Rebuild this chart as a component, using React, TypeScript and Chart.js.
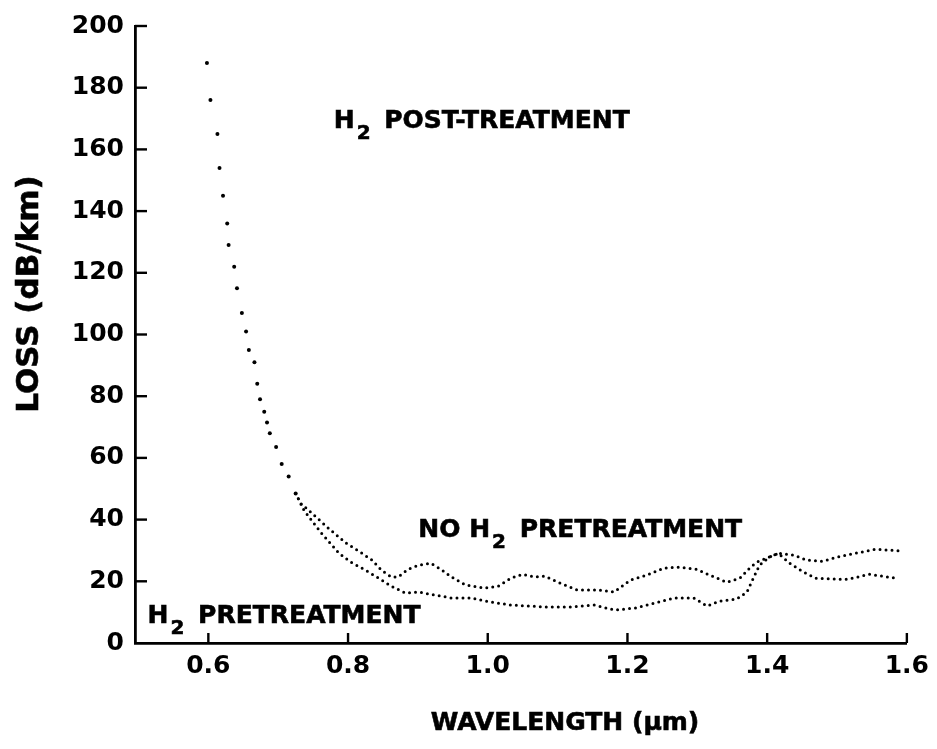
import React, { useEffect, useRef } from "react";
import { Chart, registerables } from "chart.js";

Chart.register(...registerables);

// Short-wavelength absorption edge shared by both fibres (wavelength µm, loss dB/km)
const edgeWavelength = [
  0.598, 0.603, 0.613, 0.616, 0.621, 0.627, 0.629, 0.637, 0.641, 0.648, 0.654, 0.658,
  0.666, 0.670, 0.674, 0.680, 0.684, 0.688, 0.697, 0.705, 0.715, 0.725,
];
const edgeLoss = [
  188, 176, 165, 154, 145, 136, 129, 122, 115, 107, 101, 95,
  91, 84, 79, 75, 71.5, 68, 63.5, 58, 54, 48.5,
];

// Fibre drawn without hydrogen pretreatment
const noPreWavelength = [
  0.725, 0.732, 0.748, 0.772, 0.797, 0.818, 0.834, 0.848, 0.862, 0.872, 0.886, 0.901,
  0.918, 0.933, 0.948, 0.968, 0.996, 1.015, 1.033, 1.05, 1.067, 1.081, 1.104, 1.128,
  1.157, 1.181, 1.204, 1.228, 1.252, 1.275, 1.299, 1.318, 1.342, 1.361, 1.375, 1.385,
  1.399, 1.416, 1.438, 1.456, 1.48, 1.499, 1.527, 1.556, 1.594,
];
const noPreLoss = [
  48.5, 45.3, 42.1, 37.2, 32.4, 29.4, 26.9, 23.6, 21.4, 21.4, 23.9, 25.2,
  25.9, 23.9, 21.4, 18.8, 17.8, 18.4, 21.0, 22.3, 21.4, 21.7, 19.4, 17.2,
  17.2, 16.5, 20.4, 22.0, 24.3, 24.6, 23.9, 22.0, 19.7, 21.0, 24.3, 26.2,
  27.5, 29.1, 28.5, 26.9, 26.5, 27.8, 29.1, 30.4, 29.8,
];

// Fibre with hydrogen pretreatment
const preWavelength = [
  0.725, 0.737, 0.762, 0.787, 0.804, 0.825, 0.844, 0.862, 0.882, 0.901, 0.925, 0.948,
  0.976, 0.996, 1.033, 1.081, 1.119, 1.153, 1.181, 1.21, 1.238, 1.267, 1.295, 1.314,
  1.332, 1.356, 1.371, 1.381, 1.389, 1.403, 1.416, 1.432, 1.452, 1.47, 1.499, 1.517,
  1.546, 1.584,
];
const preLoss = [
  48.5, 43.0, 35.6, 29.1, 26.2, 23.6, 21.0, 18.4, 16.2, 16.5, 15.5, 14.6,
  14.6, 13.6, 12.3, 11.7, 11.7, 12.3, 10.7, 11.3, 12.9, 14.6, 14.6, 12.0,
  13.6, 14.2, 16.5, 21.4, 25.2, 27.8, 29.1, 25.9, 23.0, 21.0, 20.7, 20.7,
  22.3, 21.0,
];

const xTicks = [0.6, 0.8, 1.0, 1.2, 1.4, 1.6];
const yTicks = [0, 20, 40, 60, 80, 100, 120, 140, 160, 180, 200];

const xTitle = "WAVELENGTH (\u03bcm)";
const yTitle = "LOSS (dB/km)";

type Part = { text: string; sub?: boolean };
// Curve captions, anchored at the left end of their baseline (data coordinates)
const captions: { x: number; y: number; parts: Part[] }[] = [
  { x: 0.7795, y: 167, parts: [{ text: "H" }, { text: "2", sub: true }, { text: " POST-TREATMENT" }] },
  { x: 0.9006, y: 34.3, parts: [{ text: "NO H" }, { text: "2", sub: true }, { text: " PRETREATMENT" }] },
  { x: 0.513, y: 6.5, parts: [{ text: "H" }, { text: "2", sub: true }, { text: " PRETREATMENT" }] },
];

const INK = "#000000";
const FAMILY = "'DejaVu Sans', 'Liberation Sans', sans-serif";

const toPoints = (xs: number[], ys: number[]) => xs.map((x, i) => ({ x, y: ys[i] }));

// Tick marks pointing into the plot area
const inwardTicks = {
  id: "inwardTicks",
  afterDatasetsDraw(chart: any) {
    const { ctx, chartArea, scales } = chart;
    const xs = scales.x;
    const ys = scales.y;
    ctx.save();
    ctx.strokeStyle = INK;
    ctx.lineWidth = 2.4;
    xs.ticks.forEach((t: any) => {
      const px = xs.getPixelForValue(t.value);
      ctx.beginPath();
      ctx.moveTo(px, chartArea.bottom);
      ctx.lineTo(px, chartArea.bottom - 10);
      ctx.stroke();
    });
    ys.ticks.forEach((t: any) => {
      if (t.value === 0) return;
      const py = ys.getPixelForValue(t.value);
      ctx.beginPath();
      ctx.moveTo(chartArea.left, py);
      ctx.lineTo(chartArea.left + 12, py);
      ctx.stroke();
    });
    ctx.restore();
  },
};

// Captions with subscripts, plus the two axis titles
const textLayer = {
  id: "textLayer",
  afterDraw(chart: any) {
    const { ctx, chartArea, scales } = chart;
    ctx.save();
    ctx.fillStyle = INK;
    ctx.strokeStyle = INK;
    ctx.lineWidth = 0.6;
    ctx.textBaseline = "alphabetic";
    ctx.textAlign = "left";
    captions.forEach((c) => {
      let px = scales.x.getPixelForValue(c.x);
      const base = scales.y.getPixelForValue(c.y);
      c.parts.forEach((p) => {
        ctx.font = p.sub ? `bold 20px ${FAMILY}` : `bold 25px ${FAMILY}`;
        if (p.sub) px += 2;
        const py = base + (p.sub ? 11 : 0);
        ctx.fillText(p.text, px, py);
        ctx.strokeText(p.text, px, py);
        px += ctx.measureText(p.text).width + (p.sub ? 5 : 0);
      });
    });

    ctx.font = `bold 25px ${FAMILY}`;
    ctx.textAlign = "center";
    const tx = chartArea.left + 430;
    const ty = chartArea.bottom + 87;
    ctx.fillText(xTitle, tx, ty);
    ctx.strokeText(xTitle, tx, ty);

    ctx.translate(38, chartArea.top + 268);
    ctx.rotate(-Math.PI / 2);
    ctx.font = `bold 31px ${FAMILY}`;
    ctx.fillText(yTitle, 0, 0);
    ctx.strokeText(yTitle, 0, 0);
    ctx.restore();
  },
};

export default function App() {
  const canvasRef = useRef<HTMLCanvasElement | null>(null);

  useEffect(() => {
    if (!canvasRef.current) return;
    const tickFont = { family: FAMILY, size: 25, weight: "bold" as const };
    const dotted = {
      borderColor: INK,
      borderWidth: 3,
      borderDash: [0, 6],
      borderCapStyle: "round" as const,
      pointRadius: 0,
      tension: 0,
      fill: false,
    };
    const chart = new Chart(canvasRef.current, {
      type: "line",
      data: {
        datasets: [
          {
            label: "edge",
            data: toPoints(edgeWavelength, edgeLoss),
            showLine: false,
            pointRadius: 2,
            pointBackgroundColor: INK,
            pointBorderWidth: 0,
          },
          { label: "NO H2 PRETREATMENT", data: toPoints(noPreWavelength, noPreLoss), ...dotted },
          { label: "H2 PRETREATMENT", data: toPoints(preWavelength, preLoss), ...dotted },
        ],
      },
      options: {
        animation: false,
        responsive: false,
        devicePixelRatio: 1,
        layout: { padding: { top: 25, right: 26, left: 0, bottom: 0 } },
        plugins: { legend: { display: false }, tooltip: { enabled: false } },
        scales: {
          x: {
            type: "linear",
            min: 0.495,
            max: 1.6,
            afterBuildTicks: (s: any) => {
              s.ticks = xTicks.map((v) => ({ value: v }));
            },
            afterFit: (s: any) => {
              s.height = 106;
            },
            ticks: {
              color: INK,
              font: tickFont,
              padding: 8,
              maxRotation: 0,
              autoSkip: false,
              callback: (v: any) => Number(v).toFixed(1),
            },
            grid: { display: false, drawTicks: false },
            border: { display: true, color: INK, width: 2.8 },
          },
          y: {
            type: "linear",
            min: 0,
            max: 200,
            afterBuildTicks: (s: any) => {
              s.ticks = yTicks.map((v) => ({ value: v }));
            },
            afterFit: (s: any) => {
              s.width = 135;
            },
            ticks: {
              color: INK,
              font: tickFont,
              padding: 11,
              autoSkip: false,
              callback: (v: any) => String(v),
            },
            grid: { display: false, drawTicks: false },
            border: { display: true, color: INK, width: 2.8 },
          },
        },
      },
      plugins: [inwardTicks, textLayer],
    });
    return () => chart.destroy();
  }, []);

  return (
    <div style={{ position: "absolute", left: 0, top: 0, width: 937, height: 749, background: "#fff" }}>
      <canvas ref={canvasRef} width={937} height={749} style={{ display: "block" }} />
    </div>
  );
}
